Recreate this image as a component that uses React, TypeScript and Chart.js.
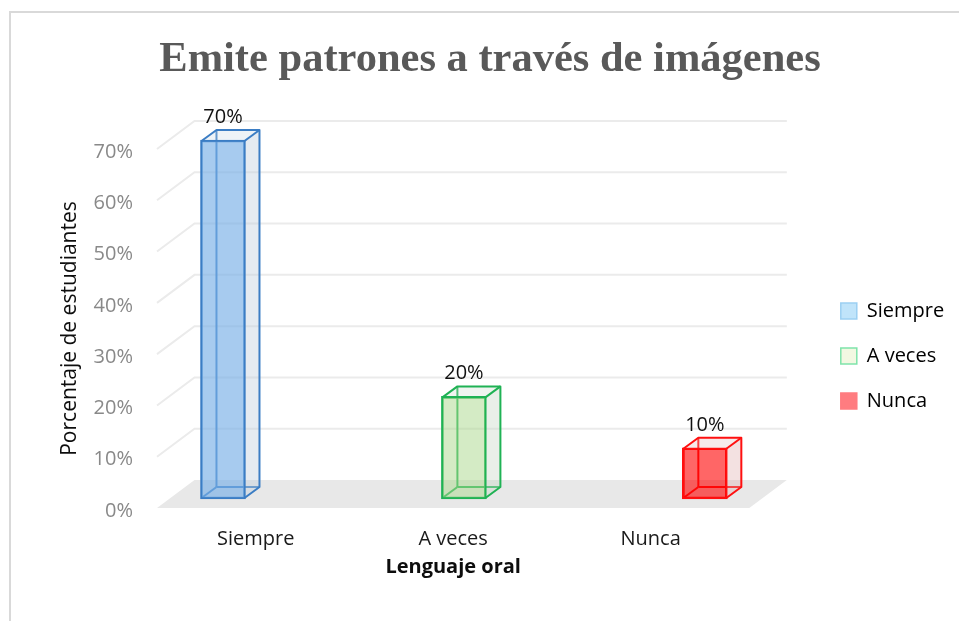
import React, { useEffect, useRef } from 'react';
import { Chart, registerables } from 'chart.js';

Chart.register(...registerables);

// ---------- data ----------
const categories = ['Siempre', 'A veces', 'Nunca'];
const percentages = [70, 20, 10];
const yTickValues = [0, 10, 20, 30, 40, 50, 60, 70];
const chartTitle = 'Emite patrones a través de imágenes';
const xAxisTitle = 'Lenguaje oral';
const yAxisTitle = 'Porcentaje de estudiantes';

// ---------- styles ----------
const frontFill = ['rgba(120,175,230,0.65)', 'rgba(170,215,140,0.5)', 'rgba(255,0,0,0.6)'];
const edgeColor = ['#3b7dc4', '#1fb254', '#ff1010'];
const sideFill = ['rgba(190,205,220,0.4)', 'rgba(200,215,200,0.4)', 'rgba(220,170,170,0.35)'];
const topFill = ['rgba(200,215,228,0.3)', 'rgba(205,220,205,0.3)', 'rgba(225,185,185,0.3)'];
const legendFill = ['#c0e4fa', '#f2f8e2', '#ff7c80'];
const legendStroke = ['#9ccff2', '#7fe3aa', '#ff7c80'];

const SANS = '"Open Sans", sans-serif';
const SERIF = '"Liberation Serif", "Times New Roman", serif';
const BAR_DX = 15;
const BAR_DY = -11;
const WALL_DX = 37.5;
const WALL_DY = -28;

function poly(ctx: CanvasRenderingContext2D, pts: number[][]) {
  ctx.beginPath();
  ctx.moveTo(pts[0][0], pts[0][1]);
  for (let i = 1; i < pts.length; i++) ctx.lineTo(pts[i][0], pts[i][1]);
  ctx.closePath();
}

function seg(ctx: CanvasRenderingContext2D, a: number[], b: number[]) {
  ctx.beginPath();
  ctx.moveTo(a[0], a[1]);
  ctx.lineTo(b[0], b[1]);
  ctx.stroke();
}

function barCorners(el: any) {
  const p = el.getProps(['x', 'y', 'base', 'width'], true);
  const x1 = p.x - p.width / 2 + 1;
  const x2 = p.x + p.width / 2 - 1;
  const y1 = Math.min(p.y, p.base) + 1;
  const y2 = Math.max(p.y, p.base) - 1;
  return { x1, x2, y1, y2, cx: p.x, top: Math.min(p.y, p.base) };
}

const box3d = {
  id: 'box3d',
  beforeDraw(chart: any) {
    const ctx = chart.ctx;
    ctx.save();
    ctx.strokeStyle = '#d9d9d9';
    ctx.lineWidth = 2;
    ctx.beginPath();
    ctx.moveTo(10, chart.height);
    ctx.lineTo(10, 12);
    ctx.lineTo(chart.width, 12);
    ctx.stroke();
    ctx.restore();
  },
  beforeDatasetsDraw(chart: any) {
    const { ctx, scales } = chart;
    const xs = scales.x;
    const ys = scales.y;
    const left = xs.getPixelForValue(-0.5);
    const right = xs.getPixelForValue(categories.length - 0.5);
    const y0 = ys.getPixelForValue(0);
    ctx.save();
    // floor
    ctx.fillStyle = '#e8e8e8';
    poly(ctx, [[left, y0], [right, y0], [right + WALL_DX, y0 + WALL_DY], [left + WALL_DX, y0 + WALL_DY]]);
    ctx.fill();
    // back wall and side wall gridlines
    ctx.strokeStyle = '#ebebeb';
    ctx.lineWidth = 2;
    yTickValues.forEach((v) => {
      if (v === 0) return;
      const yy = ys.getPixelForValue(v);
      ctx.beginPath();
      ctx.moveTo(left, yy);
      ctx.lineTo(left + WALL_DX, yy + WALL_DY);
      ctx.lineTo(right + WALL_DX, yy + WALL_DY);
      ctx.stroke();
    });
    // hidden edges + translucent side / top faces
    const meta = chart.getDatasetMeta(0);
    meta.data.forEach((el: any, i: number) => {
      const c = barCorners(el);
      ctx.strokeStyle = edgeColor[i];
      ctx.lineWidth = 2;
      seg(ctx, [c.x1 + BAR_DX, c.y1 + BAR_DY], [c.x1 + BAR_DX, c.y2 + BAR_DY]);
      seg(ctx, [c.x1 + BAR_DX, c.y2 + BAR_DY], [c.x2 + BAR_DX, c.y2 + BAR_DY]);
      seg(ctx, [c.x1, c.y2], [c.x1 + BAR_DX, c.y2 + BAR_DY]);
      ctx.fillStyle = sideFill[i];
      poly(ctx, [[c.x2, c.y1], [c.x2 + BAR_DX, c.y1 + BAR_DY], [c.x2 + BAR_DX, c.y2 + BAR_DY], [c.x2, c.y2]]);
      ctx.fill();
      ctx.fillStyle = topFill[i];
      poly(ctx, [[c.x1, c.y1], [c.x2, c.y1], [c.x2 + BAR_DX, c.y1 + BAR_DY], [c.x1 + BAR_DX, c.y1 + BAR_DY]]);
      ctx.fill();
    });
    ctx.restore();
  },
  afterDatasetsDraw(chart: any) {
    const { ctx } = chart;
    const meta = chart.getDatasetMeta(0);
    ctx.save();
    meta.data.forEach((el: any, i: number) => {
      const c = barCorners(el);
      ctx.strokeStyle = edgeColor[i];
      ctx.lineWidth = 2;
      ctx.lineJoin = 'round';
      ctx.beginPath();
      ctx.moveTo(c.x1, c.y1);
      ctx.lineTo(c.x1 + BAR_DX, c.y1 + BAR_DY);
      ctx.lineTo(c.x2 + BAR_DX, c.y1 + BAR_DY);
      ctx.lineTo(c.x2 + BAR_DX, c.y2 + BAR_DY);
      ctx.lineTo(c.x2, c.y2);
      ctx.stroke();
      seg(ctx, [c.x2, c.y1], [c.x2 + BAR_DX, c.y1 + BAR_DY]);
      // value label
      ctx.fillStyle = '#111111';
      ctx.font = `20px ${SANS}`;
      ctx.textAlign = 'center';
      ctx.textBaseline = 'alphabetic';
      ctx.fillText(`${percentages[i]}%`, c.cx, c.top - 17);
    });
    ctx.restore();
  },
  afterDraw(chart: any) {
    const { ctx, scales, chartArea } = chart;
    const xs = scales.x;
    const ys = scales.y;
    ctx.save();
    ctx.fillStyle = '#0d0d0d';
    ctx.textAlign = 'center';
    ctx.textBaseline = 'middle';
    ctx.font = `bold 20px ${SANS}`;
    ctx.fillText(xAxisTitle, xs.getPixelForValue(1), ys.getPixelForValue(0) + 59);
    ctx.font = `21px ${SANS}`;
    const midY = (ys.getPixelForValue(0) + ys.getPixelForValue(yTickValues[yTickValues.length - 1])) / 2;
    ctx.translate(chartArea.left - 87, midY);
    ctx.rotate(-Math.PI / 2);
    ctx.fillText(yAxisTitle, 0, 0);
    ctx.restore();
  },
};

export default function App() {
  const canvasRef = useRef<HTMLCanvasElement | null>(null);

  useEffect(() => {
    if (!canvasRef.current) return;
    const chart = new Chart(canvasRef.current, {
      type: 'bar',
      data: {
        datasets: [
          {
            label: 'Porcentaje',
            data: percentages.map((v, i) => ({ x: i, y: v })) as any,
            xAxisID: 'xb',
            yAxisID: 'yb',
            backgroundColor: frontFill,
            borderColor: edgeColor,
            borderWidth: 2,
            borderSkipped: false,
            barThickness: 45,
            clip: false as any,
          },
        ],
      },
      options: {
        responsive: false,
        animation: false,
        devicePixelRatio: 1,
        layout: { padding: { left: 25.8, right: 4.8, top: 0, bottom: 58 } },
        scales: {
          x: {
            type: 'linear',
            position: { y: 0 } as any,
            offset: false,
            min: -0.5,
            max: 2.8367,
            grid: { display: false, drawTicks: false },
            border: { display: false },
            afterBuildTicks: (scale: any) => {
              scale.ticks = categories.map((_, i) => ({ value: i }));
            },
            ticks: {
              padding: 19,
              color: '#1a1a1a',
              font: { family: SANS, size: 20 },
              maxRotation: 0,
              autoSkip: false,
              callback: (_v: any, index: number) => categories[index],
            },
          },
          y: {
            type: 'linear',
            position: 'left',
            offset: false,
            min: -10.724,
            max: 70,
            grid: { display: false, drawTicks: false },
            border: { display: false },
            afterFit: (scale: any) => {
              scale.width = 131.2;
            },
            afterBuildTicks: (scale: any) => {
              scale.ticks = yTickValues.map((v) => ({ value: v }));
            },
            ticks: {
              padding: 24,
              labelOffset: 3,
              color: '#898989',
              font: { family: SANS, size: 20 },
              callback: (v: any) => `${v}%`,
            },
          },
          xb: { type: 'linear', display: false, offset: false, min: -0.27386, max: 2.4606 },
          yb: { type: 'linear', display: false, offset: false, min: -12.479, max: 68.245 },
        },
        plugins: {
          title: {
            display: true,
            text: chartTitle,
            color: '#595959',
            font: { family: SERIF, size: 42.5, weight: 'bold' },
            padding: { top: 35, bottom: 63 },
          },
          legend: {
            display: true,
            position: 'right',
            fullSize: false,
            onClick: () => {},
            labels: {
              boxWidth: 16,
              boxHeight: 16,
              padding: 25,
              color: '#000000',
              font: { family: SANS, size: 20 },
              generateLabels: () =>
                categories.map((c, i) => ({
                  text: c,
                  fillStyle: legendFill[i],
                  strokeStyle: legendStroke[i],
                  lineWidth: 1.5,
                  hidden: false,
                  index: i,
                  datasetIndex: 0,
                })) as any,
            },
          },
          tooltip: { enabled: false },
        },
      } as any,
      plugins: [box3d as any],
    });
    return () => chart.destroy();
  }, []);

  return (
    <canvas
      ref={canvasRef}
      width={959}
      height={621}
      style={{ position: 'fixed', left: 0, top: 0, width: 959, height: 621 }}
    />
  );
}
